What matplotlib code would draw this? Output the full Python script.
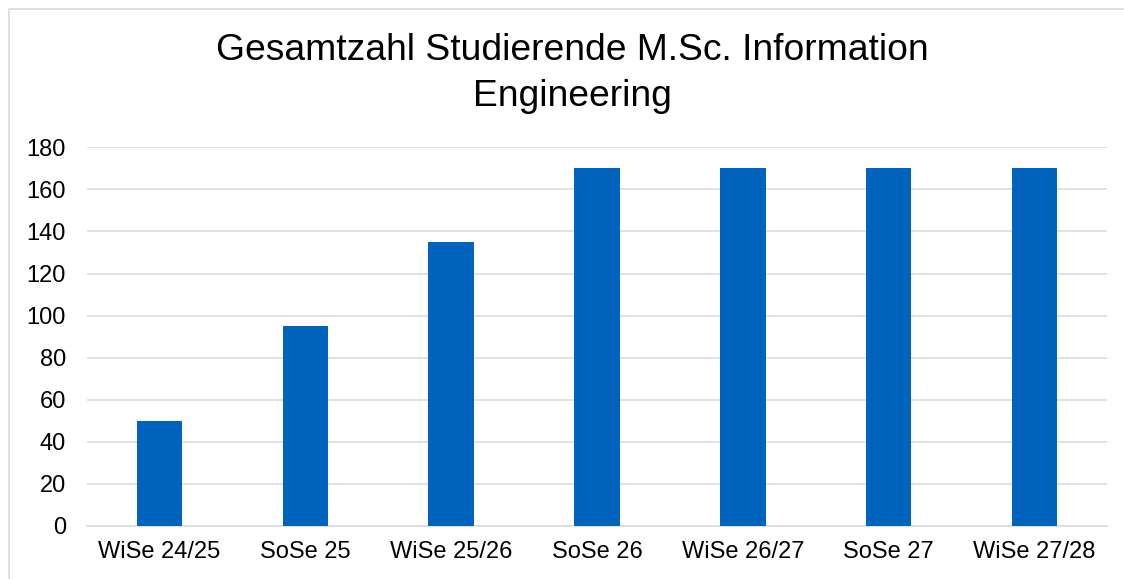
import matplotlib
matplotlib.use("Agg")
import matplotlib.pyplot as plt
from matplotlib.patches import Rectangle

categories = ["WiSe 24/25", "SoSe 25", "WiSe 25/26", "SoSe 26", "WiSe 26/27", "SoSe 27", "WiSe 27/28"]
values = [50, 95, 135, 170, 170, 170, 170]
yticks = [0, 20, 40, 60, 80, 100, 120, 140, 160, 180]
title_lines = ["Gesamtzahl Studierende M.Sc. Information", "Engineering"]

plt.rcParams['font.family'] = ['Liberation Sans', 'DejaVu Sans']

W, H = 1124, 579
fig = plt.figure(figsize=(W/100, H/100), dpi=100)
fig.patch.set_facecolor('white')

# outer chart border
fig.patches.append(Rectangle((9/W, -0.1), 1.2, 1 - 9/H + 0.1, transform=fig.transFigure,
                             fill=False, edgecolor='#D9D9D9', linewidth=1.2))

ax = fig.add_axes([86.7/W, 1 - 526/H, (1107.3 - 86.7)/W, (526 - 147.3)/H])
x = list(range(len(categories)))
ax.bar(x, values, width=0.313, color='#0063BE', zorder=3)
ax.set_xlim(-0.5, len(categories) - 0.5)
ax.set_ylim(0, 180)
ax.set_yticks(yticks)
ax.set_xticks(x)
ax.set_xticklabels(categories)
ax.tick_params(axis='both', length=0, labelsize=17, colors='black')
ax.tick_params(axis='y', pad=15)
ax.tick_params(axis='x', pad=11)
ax.grid(axis='y', color='#D9D9D9', linewidth=1.1, zorder=0)
for s in ['top', 'right', 'left']:
    ax.spines[s].set_visible(False)
ax.spines['bottom'].set_color('#D9D9D9')
ax.spines['bottom'].set_linewidth(1.1)

fig.text(572/W, 1 - 50/H, title_lines[0], ha='center', va='center', fontsize=26.8)
fig.text(572/W, 1 - 97/H, title_lines[1], ha='center', va='center', fontsize=26.8)

fig.savefig('out.png', dpi=100)
